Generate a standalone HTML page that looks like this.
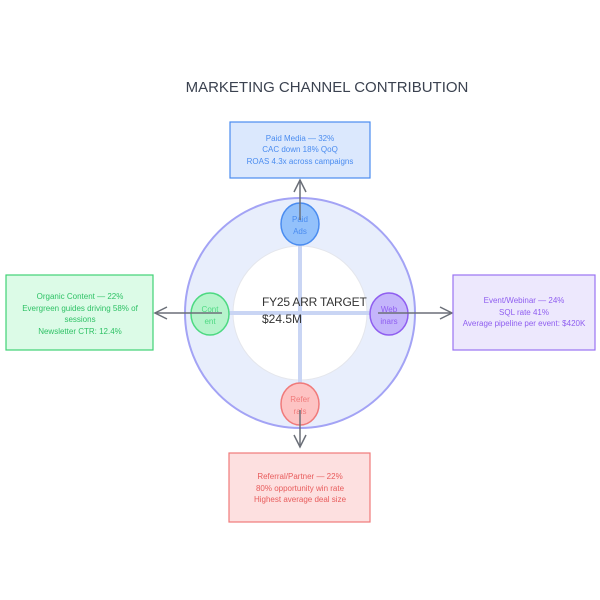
<!DOCTYPE html>
<html><head><style>body{margin:0;background:#fff}svg{display:block}text{font-family:"Liberation Sans",sans-serif}</style></head><body>
<svg width="600" height="600" viewBox="0 0 600 600">
<text x="327" y="92" text-anchor="middle" font-size="15" fill="#3b4250">MARKETING CHANNEL CONTRIBUTION</text>
<circle cx="300" cy="313" r="115" fill="#e8eefc" stroke="#a3a3f5" stroke-width="2"/>
<circle cx="300" cy="313" r="67" fill="#fff" stroke="#e4e6ec" stroke-width="1"/>
<line x1="300" y1="225" x2="300" y2="402" stroke="#c9d5f4" stroke-width="4"/>
<line x1="212" y1="313" x2="388" y2="313" stroke="#c9d5f4" stroke-width="4"/>
<text x="262" y="306" font-size="12" fill="#333" letter-spacing="-0.2">FY25 ARR TARGET</text>
<text x="262" y="323" font-size="12" fill="#333">$24.5M</text>
<ellipse cx="300" cy="224" rx="19" ry="21" fill="#93c1fb" stroke="#4a8cf0" stroke-width="1.5"/>
<text x="300" y="222" font-size="8" fill="#4a8cf0" text-anchor="middle">Paid</text><text x="300" y="234" font-size="8" fill="#4a8cf0" text-anchor="middle">Ads</text>
<ellipse cx="210" cy="314" rx="19" ry="21" fill="#b6f4cc" stroke="#4dd982" stroke-width="1.5"/>
<text x="210" y="312" font-size="8" fill="#4dd982" text-anchor="middle">Cont</text><text x="210" y="324" font-size="8" fill="#4dd982" text-anchor="middle">ent</text>
<ellipse cx="389" cy="314" rx="19" ry="21" fill="#c4b5fb" stroke="#8f5ef0" stroke-width="1.5"/>
<text x="389" y="312" font-size="8" fill="#8f5ef0" text-anchor="middle">Web</text><text x="389" y="324" font-size="8" fill="#8f5ef0" text-anchor="middle">inars</text>
<ellipse cx="300" cy="404" rx="19" ry="21" fill="#fdc3c3" stroke="#f07a7a" stroke-width="1.5"/>
<text x="300" y="402" font-size="8" fill="#f07a7a" text-anchor="middle">Refer</text><text x="300" y="414" font-size="8" fill="#f07a7a" text-anchor="middle">rals</text>
<g stroke="#6b6f78" stroke-width="1.5" fill="none">
<line x1="300" y1="220" x2="300" y2="180"/><polyline points="294,192 300,180 306,192"/>
<line x1="222" y1="313" x2="155" y2="313"/><polyline points="167,307 155,313 167,319"/>
<line x1="378" y1="313" x2="452" y2="313"/><polyline points="440,307 452,313 440,319"/>
<line x1="300" y1="410" x2="300" y2="447"/><polyline points="294,435 300,447 306,435"/>
</g>
<rect x="230" y="122" width="140" height="56" fill="#dbe8fd" stroke="#4a8cf0" stroke-width="1.2"/>
<g font-size="8" fill="#4a8cf0" text-anchor="middle"><text x="300" y="141">Paid Media — 32%</text><text x="300" y="152">CAC down 18% QoQ</text><text x="300" y="164">ROAS 4.3x across campaigns</text></g>
<rect x="6" y="275" width="147" height="75" fill="#dcfbe7" stroke="#3fd176" stroke-width="1.2"/>
<g font-size="8" fill="#2fc266" text-anchor="middle"><text x="80" y="299">Organic Content — 22%</text><text x="80" y="311">Evergreen guides driving 58% of</text><text x="80" y="322">sessions</text><text x="80" y="334">Newsletter CTR: 12.4%</text></g>
<rect x="453" y="275" width="142" height="75" fill="#ede8fd" stroke="#9a73f2" stroke-width="1.2"/>
<g font-size="8" fill="#8f5ef0" text-anchor="middle"><text x="524" y="303">Event/Webinar — 24%</text><text x="524" y="315">SQL rate 41%</text><text x="524" y="326">Average pipeline per event: $420K</text></g>
<rect x="229" y="453" width="141" height="69" fill="#fde0e0" stroke="#f07a7a" stroke-width="1.2"/>
<g font-size="8" fill="#e85c5c" text-anchor="middle"><text x="300" y="479">Referral/Partner — 22%</text><text x="300" y="491">80% opportunity win rate</text><text x="300" y="502">Highest average deal size</text></g>
</svg></body></html>
